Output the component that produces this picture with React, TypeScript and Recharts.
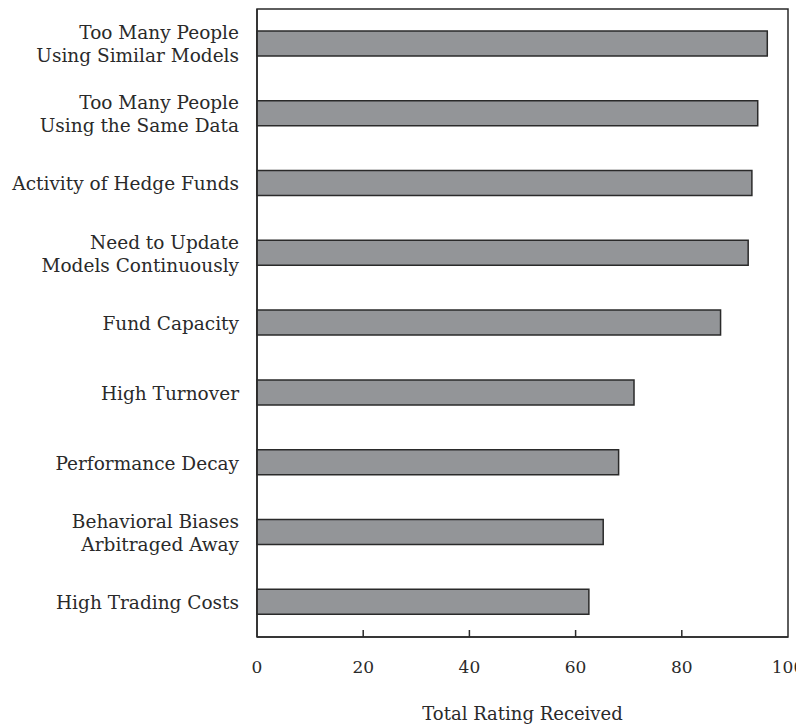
import { BarChart, Bar, XAxis, YAxis, Label, ReferenceArea } from "recharts"

const categories = [
  "Too Many People\nUsing Similar Models",
  "Too Many People\nUsing the Same Data",
  "Activity of Hedge Funds",
  "Need to Update\nModels Continuously",
  "Fund Capacity",
  "High Turnover",
  "Performance Decay",
  "Behavioral Biases\nArbitraged Away",
  "High Trading Costs",
]
const ratings = [96.1, 94.3, 93.2, 92.5, 87.3, 71.0, 68.1, 65.2, 62.5]
const xTicks = [0, 20, 40, 60, 80, 100]

const data = categories.map((name, i) => ({ name, rating: ratings[i] }))

const FONT = "'DejaVu Serif', serif"
const INK = "#2a2a2a"

function CategoryTick({ x, y, payload }: any) {
  const lines = String(payload.value).split("\n")
  const lh = 23
  const start = -((lines.length - 1) * lh) / 2
  return (
    <text x={x} y={y} textAnchor="end" fontFamily={FONT} fontSize={18.5} fill={INK}>
      {lines.map((l, i) => (
        <tspan key={i} x={x} dy={i === 0 ? start + 7 : lh}>
          {l}
        </tspan>
      ))}
    </text>
  )
}

function ValueTick({ x, y, payload }: any) {
  const inner = payload.value !== 0 && payload.value !== 100
  return (
    <g>
      {inner && <line x1={x} x2={x} y1={y} y2={y - 7} stroke={INK} strokeWidth={1.5} />}
      <text x={x} y={y + 36} textAnchor="middle" fontFamily={FONT} fontSize={17} fill={INK}>
        {payload.value}
      </text>
    </g>
  )
}

export default function App() {
  return (
    <div style={{ width: 796, height: 719 }}>
      <BarChart
        width={796}
        height={719}
        data={data}
        layout="vertical"
        margin={{ top: 1, right: 16, bottom: 0, left: 0 }}
        style={{ overflow: "visible" }}
      >
        <XAxis
          type="number"
          domain={[0, 100]}
          ticks={xTicks}
          tickLine={false}
          tickSize={0}
          tickMargin={0}
          tick={<ValueTick />}
          axisLine={{ stroke: INK, strokeWidth: 1.5 }}
          height={90}
          interval={0}
        >
          <Label
            value="Total Rating Received"
            position="insideBottom"
            offset={7}
            style={{ fontFamily: FONT, fontSize: 18, fill: INK }}
          />
        </XAxis>
        <YAxis
          type="category"
          dataKey="name"
          width={249}
          tickLine={false}
          tickSize={0}
          tickMargin={18}
          tick={<CategoryTick />}
          axisLine={{ stroke: INK, strokeWidth: 1.5 }}
          interval={0}
        />
        <ReferenceArea
          x1={0}
          x2={100}
          fill="none"
          fillOpacity={0}
          stroke={INK}
          strokeWidth={1.5}
          ifOverflow="visible"
        />
        <Bar
          dataKey="rating"
          fill="#939598"
          stroke={INK}
          strokeWidth={1.5}
          barSize={25}
          isAnimationActive={false}
        />
      </BarChart>
    </div>
  )
}
